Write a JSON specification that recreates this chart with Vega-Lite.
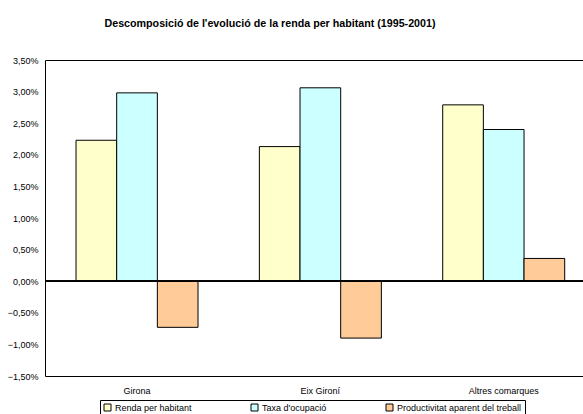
{
  "$schema": "https://vega.github.io/schema/vega-lite/v6.json",
  "width": 538,
  "height": 316,
  "autosize": {"type": "none"},
  "padding": {"left": 45, "top": 60, "right": 0, "bottom": 38},
  "background": "white",
  "title": {
    "text": "Descomposició de l'evolució de la renda per habitant (1995-2001)",
    "fontSize": 10.7,
    "fontWeight": "bold",
    "font": "Liberation Sans",
    "color": "black",
    "anchor": "middle",
    "dx": -44,
    "offset": 26
  },
  "data": {
    "values": [
      {"region": "Girona", "serie": "Renda per habitant", "value": 0.0223},
      {"region": "Girona", "serie": "Taxa d'ocupació", "value": 0.0298},
      {"region": "Girona", "serie": "Productivitat aparent del treball", "value": -0.0073},
      {"region": "Eix Gironí", "serie": "Renda per habitant", "value": 0.0213},
      {"region": "Eix Gironí", "serie": "Taxa d'ocupació", "value": 0.0306},
      {"region": "Eix Gironí", "serie": "Productivitat aparent del treball", "value": -0.0090},
      {"region": "Altres comarques", "serie": "Renda per habitant", "value": 0.0279},
      {"region": "Altres comarques", "serie": "Taxa d'ocupació", "value": 0.0240},
      {"region": "Altres comarques", "serie": "Productivitat aparent del treball", "value": 0.0036}
    ]
  },
  "encoding": {
    "y": {
      "field": "value",
      "type": "quantitative",
      "scale": {"domain": [-0.015, 0.035], "nice": false, "zero": false},
      "axis": {
        "title": null,
        "values": [-0.015, -0.01, -0.005, 0, 0.005, 0.01, 0.015, 0.02, 0.025, 0.03, 0.035],
        "labelExpr": "replace(format(datum.value, '.2%'), '.', ',')",
        "labelOverlap": false,
        "labelFlush": false,
        "labelBound": false,
        "grid": false,
        "ticks": false,
        "domain": false,
        "labelPadding": 7,
        "labelFontSize": 9,
        "labelColor": "black"
      }
    }
  },
  "layer": [
    {
      "mark": {"type": "bar", "stroke": "black", "strokeWidth": 1},
      "encoding": {
        "x": {
          "field": "region",
          "type": "nominal",
          "sort": ["Girona", "Eix Gironí", "Altres comarques"],
          "scale": {"paddingInner": 0.3346, "paddingOuter": 0.1345, "align": 0.629},
          "axis": {
            "title": null,
            "labelAngle": 0,
            "ticks": false,
            "domain": false,
            "labelPadding": 10,
            "labelFontSize": 9,
            "labelColor": "black"
          }
        },
        "xOffset": {
          "field": "serie",
          "type": "nominal",
          "sort": ["Renda per habitant", "Taxa d'ocupació", "Productivitat aparent del treball"],
          "scale": {"paddingInner": 0, "paddingOuter": 0}
        },
        "color": {
          "field": "serie",
          "type": "nominal",
          "sort": ["Renda per habitant", "Taxa d'ocupació", "Productivitat aparent del treball"],
          "scale": {
            "domain": ["Renda per habitant", "Taxa d'ocupació", "Productivitat aparent del treball"],
            "range": ["#FFFFCC", "#CCFFFF", "#FFCC99"]
          },
          "legend": {
            "title": null,
            "orient": "none",
            "legendX": 55,
            "legendY": 340,
            "direction": "horizontal",
            "symbolType": "square",
            "symbolSize": 49,
            "symbolStrokeColor": "black",
            "symbolStrokeWidth": 1,
            "symbolOpacity": 1,
            "strokeColor": "black",
            "padding": 3,
            "columnPadding": 57,
            "labelFontSize": 9,
            "labelColor": "black",
            "labelOffset": 3
          }
        }
      }
    },
    {
      "mark": {"type": "rule", "color": "black", "strokeWidth": 1},
      "encoding": {"y": {"datum": 0}}
    }
  ],
  "config": {
    "font": "Liberation Sans",
    "view": {"stroke": "black", "strokeWidth": 1},
    "axisY": {"labelOverlap": false}
  }
}
